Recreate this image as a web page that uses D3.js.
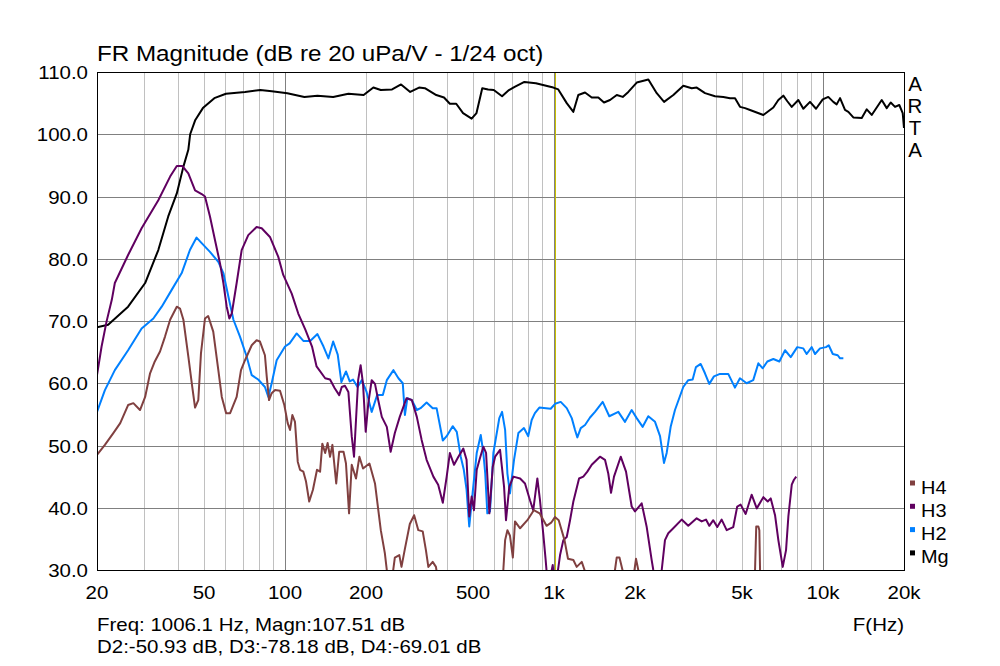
<!DOCTYPE html>
<html>
<head>
<meta charset="utf-8">
<script src="https://cdn.jsdelivr.net/npm/d3@7"></script>
<style>
  body { margin: 0; background: #fff; }
  text { font-family: "Liberation Sans", Arial, sans-serif; fill: #000; }
</style>
</head>
<body>
<script>
// [frequency Hz, level dB]
var mg = [[20,69.0],[22,69.4],[26.1,72.3],[30.2,76.1],[33.8,81.4],[36.8,86.8],[39.6,90.5],[41.9,94.8],[43.7,97.5],[44.4,100.0],
  [46.4,102.3],[49.5,104.2],[54.6,105.8],[60.3,106.5],[71,106.8],[80.9,107.1],[89.3,106.9],[102,106.6],[118,106.0],[132,106.2],
  [151,106.0],[172,106.5],[196,106.3],[213,107.5],[227,107.1],[250,107.2],[270,108.0],[292,106.8],[315,107.5],[331,107.4],
  [365,106.3],[390,105.9],[410,104.9],[433,104.9],[459,103.4],[494,102.5],[515,103.4],[541,107.4],[569,107.2],[597,107.1],
  [641,106.1],[680,107.1],[714,107.6],[776,108.4],[856,108.2],[994,107.5],[1037,107.2],[1115,105.0],[1180,103.6],[1231,106.3],
  [1304,106.7],[1381,105.9],[1461,105.9],[1534,105.1],[1615,105.5],[1711,106.3],[1801,106.0],[1889,106.8],[2030,108.3],[2242,108.8],
  [2409,106.6],[2565,105.2],[2777,106.3],[3025,107.8],[3250,107.4],[3392,107.5],[3642,106.6],[3968,106.1],[4260,106.0],[4511,105.8],
  [4709,105.8],[4914,104.4],[5129,104.2],[5354,103.9],[6000,103.1],[6536,104.3],[6822,105.5],[7119,106.2],[7367,105.3],[7649,104.4],
  [8094,105.5],[8448,104.1],[8946,105.2],[9419,104.1],[9975,105.6],[10460,106.0],[10920,105.2],[11240,104.8],[11570,105.8],[12070,103.9],
  [12420,103.6],[12960,102.7],[13930,102.6],[14540,104.0],[15170,103.1],[16530,105.5],[17250,104.2],[17850,105.1],[18520,104.4],[19210,104.7],
  [19780,103.4],[20000,101.0]];

var h2 = [[20,55.4],[21.4,58.9],[23.3,62.1],[26.1,65.3],[29.3,68.8],[32.4,70.4],[34.8,72.3],[37.9,75.0],[41.3,77.7],[44.3,81.4],
  [46.9,83.4],[49.0,82.5],[52.6,81.1],[56.5,79.5],[59.0,77.7],[61.6,73.9],[64.3,70.2],[68.0,67.5],[72.0,64.3],[75.2,61.3],
  [79.5,60.6],[84.2,59.4],[86.7,57.8],[89.2,60.0],[93.1,63.7],[100,65.9],[104,66.4],[110.5,68.0],[117,66.8],[124,66.8],
  [132,67.9],[139,65.9],[145,64.0],[151,66.7],[157,64.6],[162,60.2],[168.5,61.9],[174,60.3],[179,60.6],[186,59.4],
  [193,60.5],[201,58.6],[210,55.4],[220,58.1],[231,58.1],[239,60.5],[253,62.1],[264,60.8],[274,60.0],[279,54.9],
  [285,57.6],[296,57.3],[309,55.7],[319,56.0],[336,56.9],[354,56.0],[366,56.0],[386,50.8],[399,51.5],[420,53.1],
  [435,52.2],[450,48.2],[462,46.1],[473,42.9],[484,37.0],[498,42.3],[516,48.8],[534,51.7],[546,48.8],[555,45.5],
  [565,39.1],[578,39.4],[595,48.8],[626,54.4],[641,55.4],[658,52.5],[671,45.5],[686,42.3],[710,47.7],[737,52.0],
  [773,52.8],[802,51.5],[826,54.1],[849,55.2],[882,56.1],[934,56.0],[972,55.9],[1009,56.7],[1059,57.0],[1115,56.0],
  [1164,54.4],[1197,52.5],[1221,51.3],[1257,52.8],[1304,53.3],[1361,54.5],[1420,55.4],[1517,57.0],[1605,54.7],[1734,55.4],
  [1836,53.8],[1944,55.7],[2029,54.4],[2136,53.0],[2241,54.7],[2374,53.8],[2478,51.5],[2563,47.2],[2623,48.8],[2714,53.0],
  [2816,55.7],[3023,59.4],[3155,60.5],[3276,60.6],[3370,62.6],[3509,63.1],[3640,61.6],[3777,59.9],[3932,61.1],[4139,61.5],
  [4443,61.5],[4705,59.3],[4911,60.8],[5201,60.0],[5503,60.5],[5749,63.2],[5969,62.4],[6209,63.5],[6536,63.9],[6881,63.5],
  [7225,65.3],[7586,64.2],[8020,65.8],[8448,65.6],[8693,64.7],[9077,65.8],[9338,64.7],[9746,65.6],[10260,65.8],[10500,66.1],
  [10870,64.7],[11340,64.5],[11570,64.0],[11900,64.0]];

var h3 = [[20,61.3],[20.8,65.9],[21.7,69.9],[22.7,73.4],[23.3,76.1],[26.1,80.6],[29.3,84.9],[33.8,89.4],[37.4,93.2],[39.6,94.9],
  [41.5,94.9],[43.7,93.7],[46.3,91.0],[49.0,90.4],[50.4,90.0],[52.6,86.8],[54.9,83.0],[57.3,79.3],[59.0,76.1],[60.7,72.3],
  [62.1,70.4],[63.4,71.2],[66.1,76.1],[69.0,81.4],[73.0,83.8],[78.4,85.1],[81.9,84.9],[87.9,83.5],[94.4,80.3],[98.5,77.4],
  [105.9,74.4],[112,71.2],[119,68.6],[126,65.9],[131,62.7],[141,60.8],[147,60.6],[153,59.2],[159,58.1],[162.5,59.4],
  [167,59.6],[172,58.6],[177,51.5],[180.5,48.2],[183.6,54.1],[187,60.5],[191,62.9],[195,59.9],[199.5,52.2],[204,56.8],
  [210,60.5],[216,59.9],[222,57.3],[229,54.6],[239,53.0],[247,49.0],[256,52.0],[267,54.6],[283,57.6],[296,57.3],
  [309,54.6],[322,50.9],[336,47.7],[356,45.0],[371,43.7],[386,40.8],[399,45.0],[410,48.8],[425,46.9],[441,48.2],
  [460,49.5],[473,47.7],[484,38.6],[494,41.8],[504,39.6],[516,46.1],[530,47.9],[546,49.8],[559,48.8],[575,39.1],
  [592,46.6],[604,48.2],[630,49.3],[652,43.4],[663,38.0],[682,43.4],[706,45.0],[748,44.7],[780,43.9],[814,41.2],
  [837,39.6],[867,44.7],[887,41.2],[912,35.8],[931,31.6],[950,27],[989,30.8],[1009,27],[1037,30.3],[1053,32.4],
  [1083,34.8],[1115,35.3],[1147,38.0],[1180,41.0],[1239,44.7],[1285,45.0],[1330,45.8],[1381,46.9],[1482,48.2],[1547,47.7],
  [1591,45.5],[1629,42.4],[1671,45.0],[1770,48.2],[1852,45.8],[1944,40.2],[2000,39.4],[2118,40.7],[2211,36.9],[2307,31.6],
  [2339,30.0],[2414,27],[2514,30.0],[2585,34.8],[2659,35.9],[2775,36.7],[2982,38.1],[3155,37.1],[3391,38.3],[3539,37.8],
  [3672,38.1],[3777,37.1],[3908,38.0],[4045,36.9],[4200,38.1],[4384,36.4],[4638,36.9],[4798,40.2],[4940,40.5],[5157,39.0],
  [5428,42.1],[5671,39.9],[6000,41.7],[6230,41.0],[6392,41.5],[6632,38.8],[6822,34.8],[7084,30.5],[7287,33.2],[7433,38.6],
  [7652,43.7],[7797,44.5],[7952,45.0]];

var h4 = [[20,48.5],[21.4,50.1],[23.0,52.0],[24.4,53.6],[26.1,56.5],[27.3,56.8],[28.9,55.7],[30.2,57.8],[31.5,61.6],[32.8,63.5],
  [34.3,65.1],[35.8,67.5],[37.4,70.2],[39.6,72.3],[40.7,72.0],[41.9,70.2],[43.7,64.3],[45.2,59.4],[46.3,56.1],[47.6,57.3],
  [48.7,64.8],[50.4,70.4],[51.8,70.8],[54.1,68.3],[56.5,62.1],[58.2,57.8],[60.4,55.2],[62.5,55.2],[66.1,57.8],[68.6,62.1],
  [71.0,63.7],[75.2,66.1],[78.4,66.9],[80.7,66.7],[84.2,64.5],[85.5,61.1],[87.2,57.3],[89.2,58.4],[91.8,58.9],[95.8,58.8],
  [99.4,56.5],[102.3,53.6],[104.4,52.5],[106.5,54.9],[108.9,53.8],[111.5,47.4],[113.7,46.1],[117,45.8],[119.7,44.2],[123,41.0],
  [127,42.9],[131.5,46.1],[135,45.8],[137.6,50.3],[141,48.8],[144,50.4],[147,48.2],[150,50.1],[155,43.9],[159,49.0],
  [165,49.0],[168.5,47.1],[173,39.1],[177,46.9],[183.6,44.7],[189,48.2],[195,46.3],[206,47.1],[216,43.9],[227,36.4],
  [235,32.7],[239,30.0],[245.6,26],[256,32.0],[266,32.4],[271,30.5],[279,33.4],[291,37.4],[302,38.8],[313,36.4],
  [325,36.2],[334,33.2],[341,30.5],[354,31.3],[364,30.5],[377,26],[487,25],[648,30],[658,34.8],[671,36.4],
  [686,35.5],[703,32.0],[716,37.8],[748,36.7],[796,38.0],[841,39.6],[884,39.1],[938,37.1],[976,37.6],[1008,38.5],
  [1041,38.0],[1094,34.8],[1127,31.8],[1180,31.6],[1214,30.5],[1268,31.3],[1310,29.5],[1361,25],[1643,25],[1685,30],
  [1710,32.0],[1751,32.0],[1797,30],[1852,25],[1949,25],[1991,30],[2017,31.8],[2057,30],[2124,25],[5354,25],
  [5588,30],[5646,37.0],[5749,37.0],[5798,36.4],[5833,30],[6088,25]];

var freqTicks = [20, 50, 100, 200, 500, 1000, 2000, 5000, 10000, 20000];
var freqLabels = ["20", "50", "100", "200", "500", "1k", "2k", "5k", "10k", "20k"];
var minorFreqs = [30, 40, 50, 60, 70, 80, 90, 200, 300, 400, 500, 600, 700, 800, 900,
  2000, 3000, 4000, 5000, 6000, 7000, 8000, 9000];
var majorFreqs = [100, 1000, 10000];
var dbTicks = [30, 40, 50, 60, 70, 80, 90, 100, 110];

var cursorFreq = 1006.1;
var legendNames = ["H4", "H3", "H2", "Mg"];
var legendColors = ["#804040", "#600060", "#0080ff", "#000000"];

var W = 1000, H = 666;
var plotL = 97, plotR = 904, plotT = 72, plotB = 570;
var sx = 1.1;   // the reference text is a little wide

var svg = d3.select("body").append("svg")
  .attr("width", W).attr("height", H);

svg.append("rect").attr("width", W).attr("height", H).attr("fill", "#fff");

var x = d3.scaleLog().domain([20, 20000]).range([plotL, plotR]);
var y = d3.scaleLinear().domain([30, 110]).range([plotB, plotT]);

// grid
var grid = svg.append("g").attr("shape-rendering", "crispEdges");
grid.selectAll(".vmin").data(minorFreqs).enter().append("line")
  .attr("x1", function(d) { return Math.round(x(d)) + 0.5; })
  .attr("x2", function(d) { return Math.round(x(d)) + 0.5; })
  .attr("y1", plotT).attr("y2", plotB)
  .attr("stroke", "#c0c0c0");
grid.selectAll(".vmaj").data(majorFreqs).enter().append("line")
  .attr("x1", function(d) { return Math.round(x(d)) + 0.5; })
  .attr("x2", function(d) { return Math.round(x(d)) + 0.5; })
  .attr("y1", plotT).attr("y2", plotB)
  .attr("stroke", "#808080");
grid.selectAll(".h").data(dbTicks).enter().append("line")
  .attr("x1", plotL).attr("x2", plotR)
  .attr("y1", function(d) { return Math.round(y(d)) + 0.5; })
  .attr("y2", function(d) { return Math.round(y(d)) + 0.5; })
  .attr("stroke", "#808080");

// cursor
svg.append("line")
  .attr("x1", Math.round(x(cursorFreq)) + 0.5).attr("x2", Math.round(x(cursorFreq)) + 0.5)
  .attr("y1", plotT).attr("y2", plotB)
  .attr("stroke", "#c8c000").attr("shape-rendering", "crispEdges");

// curves
svg.append("clipPath").attr("id", "plot").append("rect")
  .attr("x", plotL).attr("y", plotT).attr("width", plotR - plotL).attr("height", plotB - plotT);

var line = d3.line()
  .x(function(d) { return x(d[0]); })
  .y(function(d) { return y(d[1]); });

var curves = svg.append("g").attr("clip-path", "url(#plot)");
[[mg, "#000000"], [h2, "#0080ff"], [h3, "#600060"], [h4, "#804040"]].forEach(function(s) {
  curves.append("path")
    .datum(s[0])
    .attr("d", line)
    .attr("fill", "none")
    .attr("stroke", s[1])
    .attr("stroke-width", 2)
    .attr("stroke-linejoin", "round");
});

// frame
svg.append("rect")
  .attr("x", plotL + 0.5).attr("y", plotT + 0.5)
  .attr("width", plotR - plotL).attr("height", plotB - plotT)
  .attr("fill", "none").attr("stroke", "#000").attr("shape-rendering", "crispEdges");

function label(tx, ty, str, size, anchor, scale) {
  return svg.append("text")
    .attr("transform", "translate(" + tx + "," + ty + ") scale(" + (scale || sx) + ",1)")
    .attr("font-size", size)
    .attr("text-anchor", anchor || "start")
    .text(str);
}

// axes labels
dbTicks.forEach(function(d) {
  label(88, y(d) + 7, d3.format(".1f")(d), 18.6, "end");
});
freqTicks.forEach(function(d, i) {
  label(x(d), 599, freqLabels[i], 18.6, "middle");
});

label(97, 61, "FR Magnitude (dB re 20 uPa/V - 1/24 oct)", 22, "start");
label(97, 631, "Freq: 1006.1 Hz, Magn:107.51 dB", 18.6, "start");
label(97, 653, "D2:-50.93 dB, D3:-78.18 dB, D4:-69.01 dB", 18.6, "start");
label(904, 631, "F(Hz)", 18.6, "end");

// ARTA
["A", "R", "T", "A"].forEach(function(c, i) {
  label(915, 91 + i * 22, c, 19.5, "middle", 1.05);
});

// legend
legendNames.forEach(function(n, i) {
  var by = 493.5 + i * 23.3;
  svg.append("rect")
    .attr("x", 910).attr("y", by - 13).attr("width", 5).attr("height", 5)
    .attr("fill", legendColors[i]);
  label(921, by, n, 19, "start", 1.05);
});
</script>
</body>
</html>
